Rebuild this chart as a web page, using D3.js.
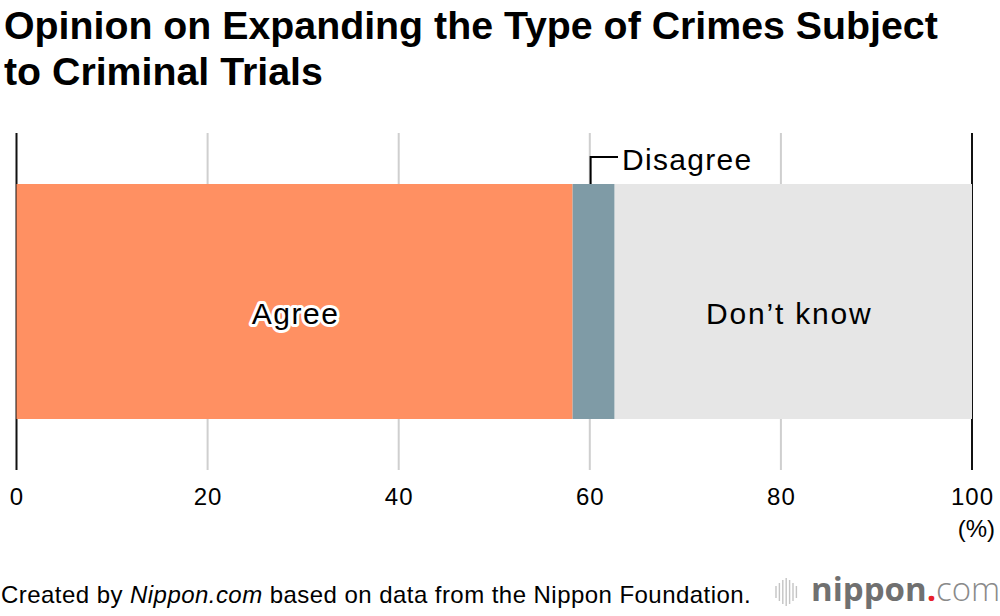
<!DOCTYPE html>
<html>
<head>
<meta charset="utf-8">
<script src="https://cdn.jsdelivr.net/npm/d3@7"></script>
<style>
  html, body { margin: 0; padding: 0; background: #fff; }
  svg { display: block; font-family: "Liberation Sans", Arial, Helvetica, sans-serif; }
</style>
</head>
<body>
<svg id="chart" width="1000" height="616"></svg>
<script>
const categories = ["Agree", "Disagree", "Don\u2019t know"];
const values = [58.2, 4.4, 37.4];
const colors = ["#FF9062", "#7F9BA6", "#E6E6E6"];
const tickValues = [0, 20, 40, 60, 80, 100];
const titleLines = ["Opinion on Expanding the Type of Crimes Subject", "to Criminal Trials"];
const sourceText = "Created by ";
const sourceItalic = "Nippon.com";
const sourceRest = " based on data from the Nippon Foundation.";

const svg = d3.select("#chart");

// Title
const title = svg.append("text").attr("font-weight", "bold").attr("font-size", 39.3).attr("fill", "#000");
titleLines.forEach((t, i) => {
  title.append("tspan").attr("x", 4).attr("y", 39 + i * 46).text(t);
});

const x = d3.scaleLinear().domain([0, 100]).range([16.5, 972]);
const barTop = 184, barBottom = 419;
const gridTop = 133, gridBottom = 470;

// Gridlines
svg.append("g").selectAll("line").data(tickValues).join("line")
  .attr("x1", d => x(d)).attr("x2", d => x(d))
  .attr("y1", gridTop).attr("y2", gridBottom)
  .attr("stroke", d => (d === 0 || d === 100) ? "#111" : "#cfcfcf")
  .attr("stroke-width", 2);

// Stacked data
let acc = 0;
const stacked = values.map((v, i) => { const s = { cat: categories[i], v, x0: acc, x1: acc + v, color: colors[i] }; acc += v; return s; });

svg.append("g").selectAll("rect").data(stacked).join("rect")
  .attr("x", d => x(d.x0)).attr("width", d => x(d.x1) - x(d.x0))
  .attr("y", barTop).attr("height", barBottom - barTop)
  .attr("fill", d => d.color);

// Labels
const agree = stacked[0];
svg.append("text").attr("x", (x(agree.x0) + x(agree.x1)) / 2 + 1).attr("y", 324)
  .attr("text-anchor", "middle").attr("font-size", 30).attr("letter-spacing", 1.5)
  .attr("stroke", "#fff").attr("stroke-width", 6).attr("stroke-linejoin", "round")
  .attr("paint-order", "stroke").attr("fill", "#000").text(agree.cat);

const dk = stacked[2];
svg.append("text").attr("x", (x(dk.x0) + x(dk.x1)) / 2 - 4).attr("y", 324)
  .attr("text-anchor", "middle").attr("font-size", 30).attr("letter-spacing", 1.8)
  .attr("fill", "#000").text(dk.cat);

// Disagree leader
const dis = stacked[1];
const lx = (x(dis.x0) + x(dis.x1)) / 2 - 3;
svg.append("path")
  .attr("d", `M${lx},${barTop} V157 H618`)
  .attr("fill", "none").attr("stroke", "#000").attr("stroke-width", 2);
svg.append("text").attr("x", 622).attr("y", 170).attr("font-size", 30).attr("letter-spacing", 1.3)
  .attr("fill", "#000").text(dis.cat);

// Axis tick labels
const axis = d3.axisBottom(x).tickValues(tickValues).tickSize(0).tickPadding(0).tickFormat(d3.format("d"));
const ag = svg.append("g").attr("transform", "translate(0,505)").call(axis);
ag.select(".domain").remove();
ag.selectAll("text").attr("font-size", 24).attr("fill", "#000").attr("letter-spacing", 1)
  .attr("font-family", "'Liberation Sans', Arial, sans-serif").attr("dy", 0).attr("y", 0);
svg.append("text").attr("x", 995).attr("y", 537).attr("text-anchor", "end").attr("font-size", 24).text("(%)");

// Source
const src = svg.append("text").attr("x", 1).attr("y", 603).attr("font-size", 24)
  .attr("letter-spacing", 0.45).attr("fill", "#000");
src.append("tspan").text(sourceText);
src.append("tspan").attr("font-style", "italic").text(sourceItalic);
src.append("tspan").text(sourceRest);

// Logo
const logo = svg.append("g");
const barHeights = [12, 18, 24, 28, 24, 18, 12];
logo.selectAll("line").data(barHeights).join("line")
  .attr("x1", (d, i) => 776 + i * 3.4).attr("x2", (d, i) => 776 + i * 3.4)
  .attr("y1", d => 592 - d / 2).attr("y2", d => 592 + d / 2)
  .attr("stroke", "#c4c4c4").attr("stroke-width", 1.4);
const lt = logo.append("text").attr("x", 811).attr("y", 601).attr("font-size", 33)
  .attr("font-family", "'Open Sans', 'DejaVu Sans', sans-serif").attr("fill", "#707070");
lt.append("tspan").attr("font-weight", "bold").text("nippon");
lt.append("tspan").attr("fill", "#e8202a").attr("font-weight", "bold").text(".");
lt.append("tspan").attr("font-weight", "300").attr("fill", "#8a8a8a").text("com");
</script>
</body>
</html>
